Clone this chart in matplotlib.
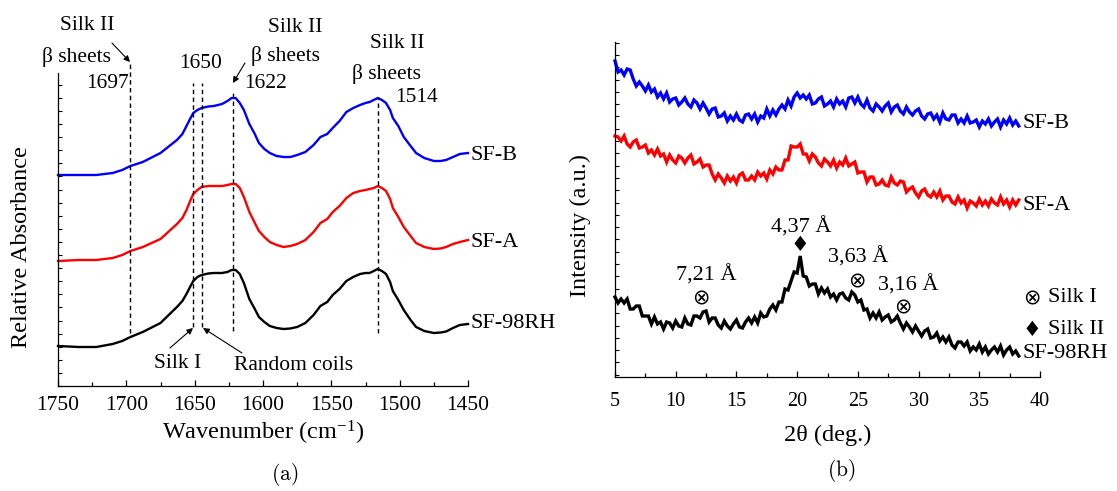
import numpy as np
import matplotlib
matplotlib.use("Agg")
import matplotlib.pyplot as plt
from matplotlib.ticker import MultipleLocator, NullFormatter

# Fonts (Times-like serif)
plt.rcParams['font.family'] = ['Liberation Serif', 'DejaVu Serif', 'DejaVu Sans']
plt.rcParams['mathtext.fontset'] = 'custom'
plt.rcParams['mathtext.rm'] = 'Liberation Serif'
plt.rcParams['mathtext.it'] = 'Liberation Serif:italic'

# ---- (a) FTIR spectra ----
wavenumber = [1750, 1735, 1722, 1710, 1703, 1697, 1688, 1675, 1663, 1659,
              1656, 1653, 1651, 1648, 1645, 1640, 1636, 1630, 1626, 1623,
              1620, 1617, 1614, 1610, 1606, 1603, 1599, 1595, 1590, 1585,
              1580, 1575, 1569, 1563, 1558, 1553, 1549, 1544, 1539, 1534,
              1529, 1525, 1522, 1519, 1516, 1513, 1510, 1507, 1505, 1501,
              1497, 1492, 1488, 1482, 1475, 1470, 1466, 1461, 1456, 1450]
ftir_sfb = [2.11, 2.11, 2.11, 2.13, 2.16, 2.20, 2.24, 2.33, 2.46, 2.52,
            2.60, 2.68, 2.73, 2.76, 2.78, 2.795, 2.80, 2.82, 2.85, 2.88,
            2.88, 2.83, 2.76, 2.62, 2.52, 2.43, 2.37, 2.33, 2.30, 2.29,
            2.29, 2.31, 2.34, 2.41, 2.49, 2.52, 2.58, 2.65, 2.74, 2.78,
            2.81, 2.83, 2.84, 2.86, 2.88, 2.86, 2.83, 2.76, 2.68, 2.60,
            2.49, 2.40, 2.33, 2.28, 2.25, 2.25, 2.26, 2.29, 2.32, 2.33]
ftir_sfa = [1.25, 1.26, 1.26, 1.28, 1.31, 1.35, 1.39, 1.47, 1.62, 1.68,
            1.76, 1.86, 1.92, 1.96, 1.99, 2.00, 2.00, 2.00, 2.01, 2.02,
            2.02, 1.98, 1.89, 1.74, 1.63, 1.55, 1.49, 1.44, 1.41, 1.39,
            1.40, 1.42, 1.46, 1.54, 1.63, 1.67, 1.74, 1.80, 1.88, 1.93,
            1.95, 1.96, 1.97, 1.98, 2.00, 1.98, 1.95, 1.87, 1.78, 1.69,
            1.59, 1.50, 1.43, 1.39, 1.37, 1.375, 1.39, 1.42, 1.44, 1.46]
ftir_sf98 = [0.40, 0.39, 0.39, 0.42, 0.45, 0.49, 0.54, 0.63, 0.79, 0.85,
             0.92, 1.00, 1.05, 1.09, 1.11, 1.125, 1.13, 1.13, 1.14, 1.16,
             1.16, 1.12, 1.03, 0.87, 0.77, 0.69, 0.64, 0.60, 0.58, 0.57,
             0.575, 0.59, 0.63, 0.71, 0.80, 0.84, 0.91, 0.97, 1.05, 1.09,
             1.12, 1.13, 1.13, 1.15, 1.17, 1.15, 1.12, 1.04, 0.95, 0.86,
             0.76, 0.66, 0.59, 0.55, 0.53, 0.535, 0.545, 0.58, 0.61, 0.62]

# band marker lines: wavenumber, bottom, top
band_lines = [(1697, 0.53, 3.24), (1651, 0.59, 3.03), (1645, 0.59, 3.03),
              (1622, 0.55, 2.93), (1516, 0.53, 2.89)]

# ---- (b) XRD patterns, 2theta from 5 deg in 0.25 deg steps ----
two_theta_start = 5.0
two_theta_step = 0.25
xrd_sfb = [326, 315, 317, 312, 318, 317, 308, 301, 305, 301,
           296, 302, 295, 298, 290, 294, 288, 294, 285, 288,
           289, 282, 285, 289, 283, 280, 287, 284, 278, 284,
           279, 273, 278, 279, 270, 271, 274, 266, 271, 267,
           273, 267, 265, 272, 273, 268, 273, 265, 271, 269,
           278, 271, 277, 272, 278, 282, 278, 287, 281, 290,
           294, 289, 292, 288, 292, 283, 284, 288, 290, 281,
           283, 286, 280, 288, 283, 286, 280, 289, 290, 284,
           290, 283, 280, 287, 279, 276, 283, 280, 276, 281,
           284, 275, 280, 282, 276, 273, 280, 275, 272, 276,
           278, 271, 268, 273, 274, 268, 272, 265, 274, 268,
           267, 272, 272, 264, 268, 264, 271, 264, 265, 267,
           260, 266, 263, 268, 261, 265, 268, 260, 267, 263,
           269, 262, 266, 261]
xrd_sfa = [251, 250, 246, 251, 243, 240, 245, 247, 239, 240,
           242, 234, 237, 232, 238, 231, 233, 225, 232, 227,
           224, 231, 229, 224, 229, 232, 223, 225, 228, 220,
           222, 222, 213, 207, 213, 209, 204, 211, 206, 210,
           204, 212, 214, 207, 207, 211, 207, 215, 211, 214,
           208, 217, 213, 220, 217, 217, 227, 227, 241, 240,
           240, 243, 233, 233, 226, 233, 230, 224, 221, 228,
           225, 221, 227, 219, 225, 222, 229, 221, 223, 225,
           214, 215, 215, 205, 210, 210, 202, 203, 207, 202,
           201, 210, 204, 202, 206, 205, 195, 198, 200, 194,
           190, 196, 198, 192, 190, 195, 190, 196, 187, 191,
           191, 185, 183, 190, 184, 187, 179, 186, 184, 181,
           188, 182, 186, 181, 188, 184, 182, 190, 183, 187,
           180, 187, 182, 187]
xrd_sf98 = [90, 84, 88, 84, 88, 78, 78, 81, 81, 71,
            71, 71, 63, 70, 63, 65, 58, 65, 64, 59,
            66, 61, 60, 69, 63, 62, 71, 71, 69, 75,
            76, 65, 69, 69, 62, 59, 66, 61, 58, 63,
            67, 60, 59, 65, 69, 64, 70, 64, 74, 70,
            71, 78, 82, 77, 85, 85, 98, 97, 106, 115,
            114, 131, 111, 110, 101, 103, 103, 93, 99, 94,
            98, 90, 93, 87, 93, 94, 89, 87, 95, 92,
            85, 87, 77, 78, 69, 74, 69, 75, 67, 70,
            72, 65, 67, 71, 64, 58, 64, 60, 55, 61,
            56, 51, 56, 58, 49, 50, 54, 46, 50, 45,
            50, 42, 39, 45, 45, 41, 45, 36, 40, 37,
            43, 35, 40, 33, 37, 40, 35, 41, 32, 37,
            40, 33, 36, 31]

W, H = 1117, 491
fig = plt.figure(figsize=(W / 100, H / 100), dpi=100)


def fx(px):
    return px / W


def fy(py):
    return 1 - py / H


ax1 = fig.add_axes([fx(58), fy(386), fx(410), (386 - 73) / H])
ax2 = fig.add_axes([fx(615), fy(377), fx(425), (377 - 42) / H])

for ax in (ax1, ax2):
    ax.spines['top'].set_visible(False)
    ax.spines['right'].set_visible(False)
    ax.spines['left'].set_linewidth(0.9)
    ax.spines['bottom'].set_linewidth(0.9)
    ax.patch.set_alpha(0)

# ---- panel (a) ----
line_kw = dict(lw=1.7, clip_on=False, solid_joinstyle='round')
ax1.plot(wavenumber, ftir_sfb, color='#0000ff', **line_kw)
ax1.plot(wavenumber, ftir_sfa, color='#ff0000', **line_kw)
ax1.plot(wavenumber, ftir_sf98, color='black', **line_kw)
for w, lo, hi in band_lines:
    ax1.plot([w, w], [lo, hi], color='black', lw=1.0, ls=(0, (3.2, 2.4)),
             clip_on=False)

ax1.set_xlim(1750, 1450)
ax1.set_ylim(0, 3.13)
ax1.set_xticks([1750, 1700, 1650, 1600, 1550, 1500, 1450])
ax1.xaxis.set_minor_locator(MultipleLocator(25))
ax1.yaxis.set_major_locator(MultipleLocator(0.131))
ax1.yaxis.set_major_formatter(NullFormatter())
ax1.tick_params(axis='x', which='major', direction='in', length=4.5, width=0.9,
                labelsize=15.5, pad=7.5)
ax1.tick_params(axis='x', which='minor', direction='in', length=3, width=0.9)
ax1.tick_params(axis='y', which='major', direction='in', length=3, width=0.8)

fs = 15.5
txt = dict(fontsize=fs, ha='center', va='center', clip_on=False)
ax1.text(1728.8, 3.61, 'Silk II', **txt)
ax1.text(1736.1, 3.29, '\u03b2 sheets', **txt)
ax1.text(1713.4, 3.02, '1697', **txt)
ax1.text(1645.4, 3.22, '1650', **txt)
ax1.text(1576.6, 3.59, 'Silk II', **txt)
ax1.text(1583.2, 3.30, '\u03b2 sheets', **txt)
ax1.text(1597.8, 3.02, '1622', **txt)
ax1.text(1501.9, 3.43, 'Silk II', **txt)
ax1.text(1509.3, 3.12, '\u03b2 sheets', **txt)
ax1.text(1487.3, 2.88, '1514', **txt)
ax1.text(1662.2, 0.23, 'Silk I', **txt)
ax1.text(1577.3, 0.20, 'Random coils', **txt)

arr = dict(arrowstyle='-|>', color='black', lw=0.8, mutation_scale=9,
           shrinkA=0, shrinkB=0)
ax1.annotate('', xy=(1697.3, 3.24), xytext=(1710.5, 3.43), arrowprops=arr,
             annotation_clip=False)
ax1.annotate('', xy=(1622.0, 3.03), xytext=(1613.2, 3.23), arrowprops=arr,
             annotation_clip=False)
ax1.annotate('', xy=(1651.2, 0.58), xytext=(1668.1, 0.38), arrowprops=arr,
             annotation_clip=False)
ax1.annotate('', xy=(1643.9, 0.58), xytext=(1615.4, 0.33), arrowprops=arr,
             annotation_clip=False)

lab = dict(fontsize=16, ha='left', va='center', clip_on=False)
ax1.text(1448, 2.31, 'SF-B', **lab)
ax1.text(1448, 1.44, 'SF-A', **lab)
ax1.text(1448, 0.62, 'SF-98RH', **lab)

# ---- panel (b) ----
x_b = two_theta_start + two_theta_step * np.arange(len(xrd_sfb))
x_a = two_theta_start + two_theta_step * np.arange(len(xrd_sfa))
x_98 = two_theta_start + two_theta_step * np.arange(len(xrd_sf98))
xrd_kw = dict(lw=2.4, clip_on=False, solid_joinstyle='miter')
ax2.plot(x_b, xrd_sfb, color='#0000ff', **xrd_kw)
ax2.plot(x_a, xrd_sfa, color='#ff0000', **xrd_kw)
ax2.plot(x_98, xrd_sf98, color='black', **xrd_kw)

ax2.set_xlim(5, 40)
ax2.set_ylim(10, 345)
ax2.set_xticks([5, 10, 15, 20, 25, 30, 35, 40])
ax2.xaxis.set_minor_locator(MultipleLocator(2.5))
ax2.yaxis.set_major_locator(MultipleLocator(12.3))
ax2.yaxis.set_major_formatter(NullFormatter())
ax2.tick_params(axis='x', which='major', direction='in', length=4.5, width=0.9,
                labelsize=14.5, pad=11)
ax2.tick_params(axis='x', which='minor', direction='in', length=3, width=0.9)
ax2.tick_params(axis='y', which='major', direction='in', length=3, width=0.8)

sym = dict(fontsize=15, ha='center', va='center', clip_on=False,
           family=['DejaVu Sans'])
t16 = dict(fontsize=16, ha='center', va='center', clip_on=False)
ax2.text(20.36, 160, '4,37 \u00c5', **t16)
ax2.text(20.24, 142, '\u2666', **sym)
ax2.text(12.50, 112, '7,21 \u00c5', **t16)
ax2.text(12.08, 89, '\u2297', **sym)
ax2.text(25.02, 130, '3,63 \u00c5', **t16)
ax2.text(24.93, 106, '\u2297', **sym)
ax2.text(29.14, 102, '3,16 \u00c5', **t16)
ax2.text(28.72, 80, '\u2297', **sym)
ax2.text(39.35, 89, '\u2297', **sym)
ax2.text(39.35, 57, '\u2666', **sym)
ax2.text(40.67, 89, 'Silk I', fontsize=16, ha='left', va='center', clip_on=False)
ax2.text(40.67, 57, 'Silk II', fontsize=16, ha='left', va='center', clip_on=False)

ax2.text(38.6, 264, 'SF-B', **lab)
ax2.text(38.6, 182, 'SF-A', **lab)
ax2.text(38.6, 34, 'SF-98RH', **lab)

# ---- axis titles and panel captions ----
fig.text(fx(22), fy(247), 'Relative Absorbance', rotation=90, fontsize=17.5,
         ha='center', va='center')
fig.text(fx(263), fy(433), 'Wavenumber (cm$^{-1}$)', fontsize=17.5,
         ha='center', va='center')
fig.text(fx(285), fy(475), r'$\mathrm{(a)}$', fontsize=15.5, ha='center',
         va='center', math_fontfamily='cm')
fig.text(fx(580), fy(225), 'Intensity (a.u.)', rotation=90, fontsize=17.5,
         ha='center', va='center')
fig.text(fx(828), fy(435), '2\u03b8 (deg.)', fontsize=17.5, ha='center',
         va='center')
fig.text(fx(841), fy(470), r'$\mathrm{(b)}$', fontsize=15.5, ha='center',
         va='center', math_fontfamily='cm')

plt.savefig('out.png', dpi=100)
